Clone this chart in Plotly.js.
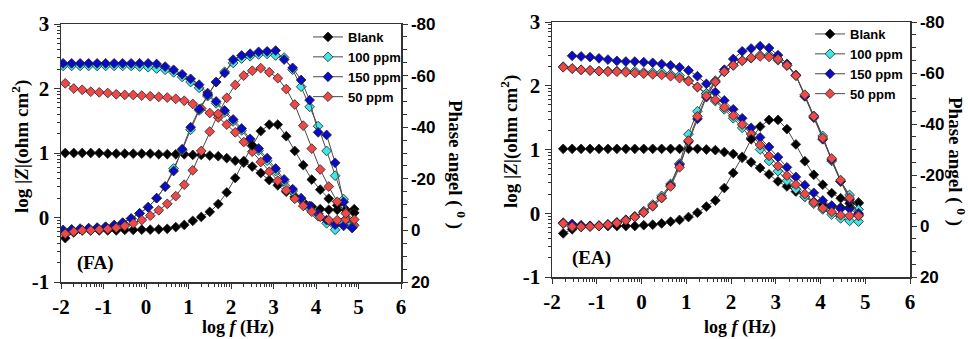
<!DOCTYPE html>
<html><head><meta charset="utf-8">
<script src="https://cdn.plot.ly/plotly-3.0.1.min.js"></script>
<style>html,body{margin:0;padding:0;background:#fff}#chart{width:968px;height:339px}</style>
</head><body><div id="chart"></div>
<script>
// ---------- data ----------
const seriesNames = ['Blank', '100 ppm', '150 ppm', '50 ppm'];
const seriesColors = ['#000000', '#3fe6e6', '#0a0ac8', '#f04848'];

// log f (Hz) sampling of the FA panel (Blank, 50 ppm) and (100, 150 ppm)
const logfFA_A = [-1.9,-1.7,-1.5,-1.3,-1.1,-0.9,-0.7,-0.5,-0.3,-0.1,0.1,0.3,0.5,0.7,0.9,1.1,1.3,1.5,1.7,1.9,2.1,2.3,2.5,2.7,2.9,3.1,3.3,3.5,3.7,3.9,4.1,4.3,4.5,4.7,4.9];
const logfFA_B = [-1.95,-1.75,-1.55,-1.35,-1.15,-0.95,-0.75,-0.55,-0.35,-0.15,0.05,0.25,0.45,0.65,0.85,1.05,1.25,1.45,1.65,1.85,2.05,2.25,2.45,2.65,2.85,3.05,3.25,3.45,3.65,3.85,4.05,4.25,4.45,4.65,4.85];
// log f (Hz) sampling of the EA panel
const logfEA = [-1.75,-1.55,-1.35,-1.15,-0.95,-0.75,-0.55,-0.35,-0.15,0.05,0.25,0.45,0.65,0.85,1.05,1.25,1.45,1.65,1.85,2.05,2.25,2.45,2.65,2.85,3.05,3.25,3.45,3.65,3.85,4.05,4.25,4.45,4.65,4.85];

// FA panel: log|Z| and phase angle
const faBlankZ  = [1.00,1.00,1.00,1.00,1.00,0.99,0.99,0.99,0.99,0.99,0.99,0.98,0.98,0.98,0.98,0.97,0.97,0.96,0.95,0.92,0.88,0.85,0.79,0.69,0.58,0.50,0.40,0.32,0.24,0.17,0.13,0.12,0.12,0.12,0.13];
const faBlankPh = [3.0,0.8,0,0,0,0,0,-0.2,-0.2,-0.3,-0.3,-0.4,-0.6,-1.3,-2.1,-3.7,-5.2,-7.2,-10.2,-14.7,-20.3,-26.9,-33,-38.5,-41,-41,-36.5,-30.8,-25.3,-19.7,-15.8,-12.3,-9.7,-7.9,-6.8];
const fa100Z    = [2.35,2.35,2.35,2.35,2.35,2.35,2.35,2.35,2.35,2.34,2.33,2.31,2.29,2.25,2.18,2.10,2.01,1.90,1.77,1.63,1.49,1.35,1.19,1.04,0.88,0.72,0.56,0.41,0.27,0.14,0.02,-0.09,-0.19,-0.06,-0.10];
const fa100Ph   = [-0.2,-0.4,-0.7,-0.9,-1.1,-1.4,-2.0,-2.9,-4.6,-6.6,-8.9,-12.5,-17,-24,-31,-39,-46.5,-52,-57.5,-61.5,-64.9,-66.6,-67.5,-68.2,-68.4,-67.8,-67,-62.3,-55.7,-47.9,-40.4,-30.8,-21.2,-12.1,-1.5];
const fa150Z    = [2.39,2.39,2.39,2.39,2.39,2.39,2.39,2.39,2.39,2.39,2.39,2.38,2.34,2.29,2.22,2.15,2.06,1.93,1.80,1.66,1.52,1.38,1.22,1.07,0.92,0.76,0.59,0.44,0.30,0.18,0.06,-0.04,-0.11,-0.13,-0.16];
const fa150Ph   = [0,-0.3,-0.5,-0.8,-1.0,-1.4,-2.0,-3.0,-4.6,-6.6,-9.0,-12.5,-17,-23,-31.5,-40,-47,-52.5,-57.5,-61,-66.2,-67.8,-68.5,-69.2,-69.4,-69.7,-66.2,-63,-58.3,-50.5,-38,-37,-26.2,-11,-1];
const fa50Z     = [2.08,2.00,1.98,1.95,1.94,1.93,1.91,1.90,1.90,1.89,1.88,1.87,1.86,1.84,1.81,1.76,1.69,1.62,1.55,1.44,1.32,1.17,1.02,0.86,0.71,0.57,0.42,0.29,0.18,0.09,0.01,-0.04,-0.04,-0.03,-0.12];
const fa50Ph    = [1.3,0.5,0,0,-0.3,-0.5,-1.0,-1.7,-2.7,-4.0,-5.7,-7.8,-10.3,-13.3,-17.7,-23.3,-30.8,-38.3,-45.2,-51.4,-56.4,-60,-61.9,-62.9,-61.3,-59,-54.8,-48.8,-40.6,-31.7,-23.6,-17,-11.1,-6.6,-4.2];

// EA panel: log|Z| and phase angle
const eaBlankZ  = [1.01,1.01,1.01,1.01,1.01,1.01,1.01,1.01,1.01,1.01,1.01,1.01,1.01,1.01,1.01,1.01,1.00,0.99,0.96,0.93,0.87,0.80,0.71,0.61,0.50,0.42,0.34,0.26,0.18,0.13,0.10,0.09,0.09,0.17];
const eaBlankPh = [2.9,1.3,0.3,0,0,0,0,0,0,-0.3,-0.5,-1.0,-1.7,-2.4,-3.5,-5.2,-7.6,-10,-14.9,-20.8,-27.1,-34,-39,-41.6,-41.6,-38,-32,-25.4,-20.1,-16.2,-12.9,-10.9,-8.9,-8.9];
const ea100Z    = [2.30,2.27,2.25,2.24,2.23,2.23,2.23,2.23,2.23,2.21,2.21,2.21,2.18,2.16,2.08,1.98,1.87,1.76,1.63,1.49,1.34,1.18,1.00,0.82,0.66,0.51,0.38,0.26,0.15,0.06,-0.02,-0.08,-0.12,-0.13];
const ea100Ph   = [-1.0,0.2,0.3,0.2,0,-0.5,-1.3,-2.4,-3.8,-5.8,-8.4,-11.8,-16.5,-24.5,-36,-45,-52,-57,-60.5,-63,-64.9,-65.8,-67,-67,-65,-62.9,-59,-51,-43.2,-35.3,-25.5,-17.5,-12.2,-6.5];
const ea150Z    = [null,2.47,2.46,2.45,2.43,2.41,2.39,2.38,2.38,2.37,2.36,2.34,2.32,2.29,2.24,2.15,2.03,1.90,1.77,1.63,1.49,1.34,1.19,1.04,0.88,0.72,0.57,0.44,0.32,0.20,0.12,0.07,0.07,-0.02];
const ea150Ph   = [-1.3,-0.8,-0.3,-0.1,-0.2,-0.6,-1.4,-2.4,-3.6,-5.3,-7.8,-11,-16,-24,-33,-42,-50.5,-56.5,-61.3,-65.5,-68.5,-69.6,-70.5,-69.8,-67,-63.6,-59.2,-50.8,-42.5,-34,-26,-17.5,-10.3,-5];
const ea50Z     = [2.29,2.27,2.25,2.24,2.23,2.22,2.22,2.21,2.20,2.19,2.18,2.17,2.15,2.12,2.07,1.98,1.88,1.78,1.66,1.53,1.39,1.24,1.07,0.90,0.74,0.59,0.45,0.30,0.17,0.08,0.02,-0.03,-0.04,-0.04];
const ea50Ph    = [-1.0,0.2,0.3,0.2,0,-0.5,-1.2,-2.2,-3.5,-5.3,-7.8,-11,-15.5,-23,-33.5,-43,-51,-56.5,-60.5,-63,-64.8,-66,-66.5,-66.3,-65.5,-63,-59,-51.5,-43,-34.5,-26.5,-18,-11,-4];

// tick labels
const xTickVals = [-2,-1,0,1,2,3,4,5,6];
const xTickText = ['-2','-1','0','1','2','3','4','5','6'];
const zTickVals = [-1,0,1,2,3];
const zTickText = ['-1','0','1','2','3'];
const phTickVals = [-80,-60,-40,-20,0,20];
const phTickText = ['-80','-60','-40','-20','0','20'];

// ---------- build ----------
const panels = [
  {xa:'x',  za:'y',  pa:'y2', leg:'legend',
   sets:[[logfFA_A,faBlankZ,faBlankPh],[logfFA_B,fa100Z,fa100Ph],[logfFA_B,fa150Z,fa150Ph],[logfFA_A,fa50Z,fa50Ph]]},
  {xa:'x2', za:'y3', pa:'y4', leg:'legend2',
   sets:[[logfEA,eaBlankZ,eaBlankPh],[logfEA,ea100Z,ea100Ph],[logfEA,ea150Z,ea150Ph],[logfEA,ea50Z,ea50Ph]]}
];
const traces = [];
function mk(x, y, i, xa, ya, leg, show){
  return {type:'scatter', mode:'lines+markers', x:x, y:y, name:seriesNames[i],
    legend:leg, legendgroup:leg+i, showlegend:show, xaxis:xa, yaxis:ya,
    line:{color:'#4a4a4a', width:1},
    marker:{symbol:'diamond', size:7.5, color:seriesColors[i], line:{color:'#222', width:0.8}},
    hoverinfo:'skip'};
}
panels.forEach(p => {
  p.sets.forEach((s,i) => traces.push(mk(s[0], s[1], i, p.xa, p.za, p.leg, true)));
  p.sets.forEach((s,i) => traces.push(mk(s[0], s[2], i, p.xa, p.pa, p.leg, false)));
});

const xMinor = []; for (let n=-2;n<5;n++) for (let k=2;k<10;k++) xMinor.push(n+Math.log10(k));
const yMinor = []; for (let n=-1;n<3;n++) for (let k=2;k<10;k++) yMinor.push(n+Math.log10(k));

const serif = 'Liberation Serif, Times New Roman, serif';
const sans = 'Liberation Sans, Arial, sans-serif';
const LC = '#333';

function xAxis(domain, anchor){
  return {domain:domain, anchor:anchor, range:[-2,6], tickmode:'array', tickvals:xTickVals, ticktext:xTickText,
    ticks:'outside', ticklen:5, tickwidth:1, tickcolor:LC, showline:true, linecolor:LC, linewidth:1.5, mirror:true,
    showgrid:false, zeroline:false, automargin:false,
    tickfont:{family:serif, size:21, color:'#000', weight:'bold'},
    minor:{tickmode:'array', tickvals:xMinor, ticks:'outside', ticklen:3, tickcolor:LC, showgrid:false}};
}
function zAxis(domain, anchor){
  return {domain:domain, anchor:anchor, range:[-1,3], tickmode:'array', tickvals:zTickVals, ticktext:zTickText,
    ticks:'outside', ticklen:6, tickwidth:1, tickcolor:LC, showline:true, linecolor:LC, linewidth:1.5,
    showgrid:false, zeroline:false, automargin:false,
    tickfont:{family:serif, size:21, color:'#000', weight:'bold'},
    minor:{tickmode:'array', tickvals:yMinor, ticks:'outside', ticklen:3, tickcolor:LC, showgrid:false}};
}
function pAxis(over, anchor){
  return {overlaying:over, anchor:anchor, side:'right', range:[20,-80], tickmode:'array', tickvals:phTickVals, ticktext:phTickText,
    ticks:'outside', ticklen:5, tickwidth:1, tickcolor:LC, showline:true, linecolor:LC, linewidth:1.5,
    showgrid:false, zeroline:false, automargin:false,
    tickfont:{family:sans, size:17, color:'#000', weight:'bold'},
    minor:{tickmode:'linear', tick0:0, dtick:5, ticks:'outside', ticklen:4, tickcolor:LC, showgrid:false}};
}

const W = 968, H = 339;
const px = v => v / W, py = v => 1 - v / H;
const legFont = {family:sans, size:13, color:'#000', weight:'bold'};
const titleFont = {family:serif, size:19, color:'#000', weight:'bold'};

const layout = {
  width:W, height:H, margin:{l:0,r:0,t:0,b:0}, paper_bgcolor:'#fff', plot_bgcolor:'#fff',
  xaxis: xAxis([px(61), px(401)], 'y'),
  yaxis: zAxis([py(282), py(24)], 'x'),
  yaxis2: pAxis('y', 'x'),
  xaxis2: xAxis([px(552), px(910)], 'y3'),
  yaxis3: zAxis([py(277), py(22)], 'x2'),
  yaxis4: pAxis('y3', 'x2'),
  legend: {x:px(308), y:py(22), xanchor:'left', yanchor:'top', bgcolor:'rgba(0,0,0,0)', font:legFont, itemwidth:30, tracegroupgap:0},
  legend2: {x:px(810), y:py(19), xanchor:'left', yanchor:'top', bgcolor:'rgba(0,0,0,0)', font:legFont, itemwidth:30, tracegroupgap:0},
  annotations: [
    {text:'log |<i>Z</i>|(ohm cm<sup>2</sup>)', x:px(20), y:py(147), xref:'paper', yref:'paper', textangle:-90, showarrow:false, font:titleFont, xanchor:'center', yanchor:'middle'},
    {text:'Phase angel ( <sup>0</sup> )', x:px(456), y:py(164), xref:'paper', yref:'paper', textangle:90, showarrow:false, font:titleFont, xanchor:'center', yanchor:'middle'},
    {text:'log <i>f</i> (Hz)', x:px(238), y:py(327), xref:'paper', yref:'paper', showarrow:false, font:{family:serif,size:18,color:'#000',weight:'bold'}, xanchor:'center', yanchor:'middle'},
    {text:'(FA)', x:px(95), y:py(263), xref:'paper', yref:'paper', showarrow:false, font:titleFont, xanchor:'center', yanchor:'middle'},
    {text:'log |<i>Z</i>|(ohm cm<sup>2</sup>)', x:px(509), y:py(142), xref:'paper', yref:'paper', textangle:-90, showarrow:false, font:titleFont, xanchor:'center', yanchor:'middle'},
    {text:'Phase angel ( <sup>0</sup> )', x:px(956), y:py(161), xref:'paper', yref:'paper', textangle:90, showarrow:false, font:titleFont, xanchor:'center', yanchor:'middle'},
    {text:'log <i>f</i> (Hz)', x:px(740), y:py(327), xref:'paper', yref:'paper', showarrow:false, font:{family:serif,size:18,color:'#000',weight:'bold'}, xanchor:'center', yanchor:'middle'},
    {text:'(EA)', x:px(591), y:py(258), xref:'paper', yref:'paper', showarrow:false, font:titleFont, xanchor:'center', yanchor:'middle'}
  ]
};

Plotly.newPlot('chart', traces, layout, {staticPlot:true, displayModeBar:false});
</script>
</body></html>
